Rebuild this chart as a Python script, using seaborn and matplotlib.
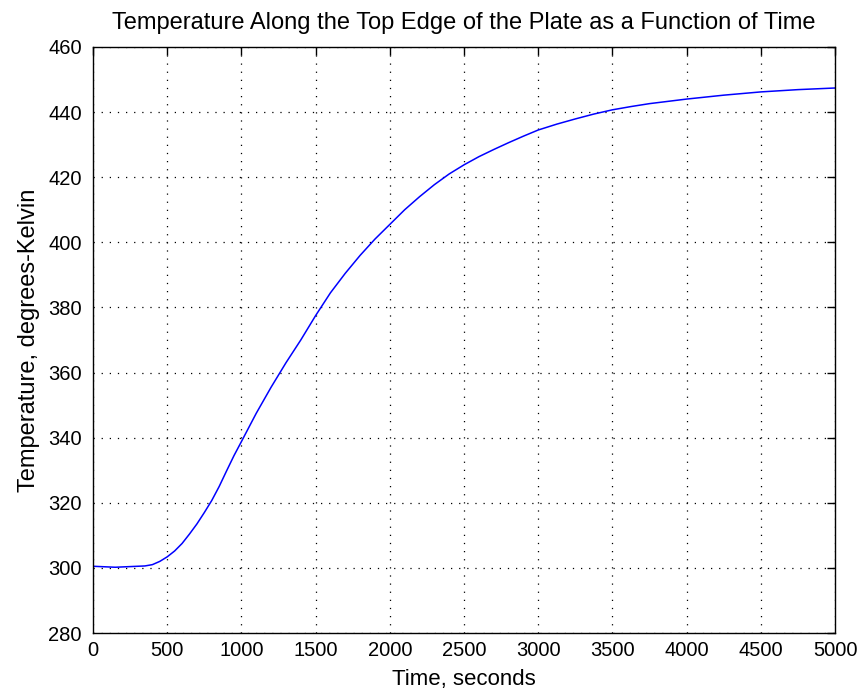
import numpy as np
import pandas as pd
import seaborn as sns
import matplotlib.pyplot as plt

# Donnees (temps en s, temperature en K)
time_s = [0, 150, 300, 350, 400, 450, 500, 550, 600, 650, 700, 750, 800, 850,
          900, 950, 1000, 1100, 1200, 1300, 1400, 1500, 1600, 1700, 1800,
          1900, 2000, 2100, 2200, 2300, 2400, 2500, 2600, 2700, 2800, 2900,
          3000, 3125, 3250, 3375, 3500, 3625, 3750, 4000, 4250, 4500, 4750, 5000]
temp_k = [300.5, 300.2, 300.5, 300.6, 301.0, 302.0, 303.4, 305.2, 307.5,
          310.4, 313.5, 317.0, 320.7, 325.0, 329.8, 334.5, 338.8, 347.5,
          355.5, 363.0, 370.0, 377.5, 384.5, 390.5, 396.0, 401.0, 405.5,
          410.0, 414.0, 417.7, 421.0, 423.8, 426.3, 428.5, 430.6, 432.6,
          434.5, 436.3, 437.9, 439.4, 440.7, 441.7, 442.6, 444.0, 445.2,
          446.2, 446.9, 447.4]
x_ticks = [0, 500, 1000, 1500, 2000, 2500, 3000, 3500, 4000, 4500, 5000]
y_ticks = [280, 300, 320, 340, 360, 380, 400, 420, 440, 460]

df = pd.DataFrame({'Time': time_s, 'Temp': temp_k})

sns.set_theme(style="white")
plt.rcParams['font.family'] = ['Liberation Sans', 'DejaVu Sans']
plt.rcParams['text.color'] = 'black'
plt.rcParams['axes.labelcolor'] = 'black'

fig = plt.figure(figsize=(8.67, 6.96), dpi=100)
ax = fig.add_axes([0.1073, 0.0905, 0.8558, 0.842])

sns.lineplot(data=df, x='Time', y='Temp', color=(0, 0, 1), linewidth=1.1, ax=ax)

ax.set_xlim(0, 5000)
ax.set_ylim(280, 460)
ax.set_xticks(x_ticks)
ax.set_yticks(y_ticks)
ax.grid(True, linestyle=(0, (1, 5.5)), color='black', linewidth=0.9)
ax.tick_params(direction='in', length=6, width=1, top=True, right=True,
               labelsize=14.5, colors='black')
ax.tick_params(axis='x', pad=6)
ax.tick_params(axis='y', pad=8)
for s in ax.spines.values():
    s.set_color('black')
    s.set_linewidth(1)
    s.set_visible(True)

ax.set_title("Temperature Along the Top Edge of the Plate as a Function of Time",
             fontsize=17, pad=13, color='black')
ax.set_xlabel("Time, seconds", fontsize=16, labelpad=6)
ax.set_ylabel("Temperature, degrees-Kelvin", fontsize=17, labelpad=6)

plt.savefig("out.png", dpi=100)
